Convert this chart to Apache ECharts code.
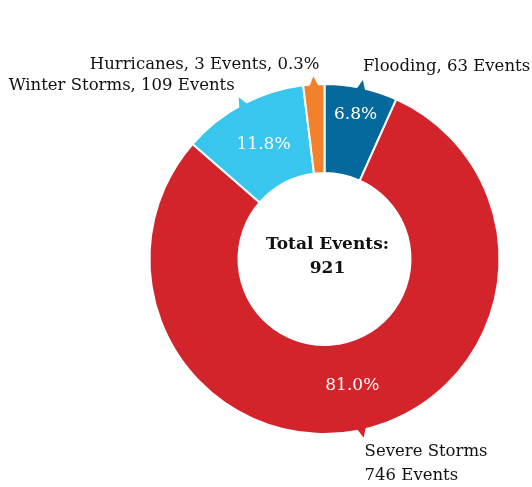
<!DOCTYPE html>
<html>
<head>
<meta charset="utf-8">
<script src="https://cdn.jsdelivr.net/npm/echarts@6/dist/echarts.min.js"></script>
<style>
  html, body { margin: 0; padding: 0; background: #ffffff; }
  #chart { width: 532px; height: 487px; }
</style>
</head>
<body>
<div id="chart"></div>
<script>
// Disaster declarations by event type
const categories = ['Flooding', 'Severe Storms', 'Winter Storms', 'Hurricanes'];
const eventCounts = [63, 746, 109, 3];
const sliceColors = ['#05699b', '#d3232b', '#38c5ee', '#f3812b'];

const totalEvents = eventCounts.reduce((a, b) => a + b, 0);
const share = v => v / totalEvents * 100;
const pct = v => share(v).toFixed(1) + '%';

const SERIF = '"DejaVu Serif", "Liberation Serif", serif';
const CX = 324.5, CY = 259, R0 = 86, R1 = 175;

// where each callout text sits relative to the tip of its pointer
const calloutPlacement = {
  'Flooding':      { dx: 0,  dy: -13, align: 'left',  vAlign: 'middle' },
  'Severe Storms': { dx: 1,  dy: 2,   align: 'left',  vAlign: 'top', stacked: true },
  'Winter Storms': { dx: -4, dy: -12, align: 'right', vAlign: 'middle' },
  'Hurricanes':    { dx: 6,  dy: -12, align: 'right', vAlign: 'middle' }
};
// radius of the percentage label inside each slice
const pctRadius = { 'Flooding': 148 };
const PCT_RADIUS_DEFAULT = 130;

const chart = echarts.init(document.getElementById('chart'), null, { renderer: 'canvas' });

chart.setOption({
  animation: false,
  backgroundColor: '#ffffff',
  series: [{
    type: 'pie',
    center: [CX, CY],
    radius: [R0, R1],
    startAngle: 90,
    clockwise: true,
    minAngle: 7,
    silent: true,
    avoidLabelOverlap: false,
    label: { show: false },
    labelLine: { show: false },
    emphasis: { disabled: true },
    itemStyle: { borderColor: '#ffffff', borderWidth: 2 },
    data: categories.map((c, i) => ({
      name: c,
      value: eventCounts[i],
      itemStyle: { color: sliceColors[i] }
    }))
  }]
});

// Pointers and labels follow the slice geometry computed by the pie layout
const pieData = chart.getModel().getSeriesByIndex(0).getData();
const graphics = [];

pieData.each(function (idx) {
  const lay = pieData.getItemLayout(idx);
  const name = categories[idx];
  const value = eventCounts[idx];
  const mid = (lay.startAngle + lay.endAngle) / 2;
  const ux = Math.cos(mid), uy = Math.sin(mid);
  const px = -uy, py = ux;
  const cx = lay.cx, cy = lay.cy, r = lay.r;

  // small pointer triangle on the outer rim
  const baseR = r - 2, tipR = r + 8, half = 4.5;
  const tipX = cx + tipR * ux, tipY = cy + tipR * uy;
  graphics.push({
    type: 'polygon',
    silent: true,
    z: 100,
    shape: {
      points: [
        [cx + baseR * ux + half * px, cy + baseR * uy + half * py],
        [cx + baseR * ux - half * px, cy + baseR * uy - half * py],
        [tipX, tipY]
      ]
    },
    style: { fill: sliceColors[idx] }
  });

  // callout text
  const place = calloutPlacement[name];
  const small = share(value) < 1;
  let text;
  if (place.stacked) text = name + '\n' + value + ' Events';
  else if (small) text = name + ', ' + value + ' Events, ' + pct(value);
  else text = name + ', ' + value + ' Events';
  graphics.push({
    type: 'text',
    silent: true,
    z: 100,
    x: tipX + place.dx,
    y: tipY + place.dy,
    style: {
      text: text,
      font: '16.5px ' + SERIF,
      fill: '#111111',
      align: place.align,
      verticalAlign: place.vAlign,
      lineHeight: 24
    }
  });

  // percentage inside the slice
  if (!small) {
    const lr = pctRadius[name] || PCT_RADIUS_DEFAULT;
    graphics.push({
      type: 'text',
      silent: true,
      z: 100,
      x: cx + lr * ux,
      y: cy + lr * uy,
      style: {
        text: pct(value),
        font: '17px ' + SERIF,
        fill: '#ffffff',
        align: 'center',
        verticalAlign: 'middle'
      }
    });
  }
});

// total in the hole of the donut
graphics.push({
  type: 'text',
  silent: true,
  z: 100,
  x: CX + 3,
  y: CY - 2,
  style: {
    text: 'Total Events:\n' + totalEvents,
    font: 'bold 17px ' + SERIF,
    fill: '#111111',
    align: 'center',
    verticalAlign: 'middle',
    lineHeight: 24
  }
});

chart.setOption({ graphic: graphics });
</script>
</body>
</html>
